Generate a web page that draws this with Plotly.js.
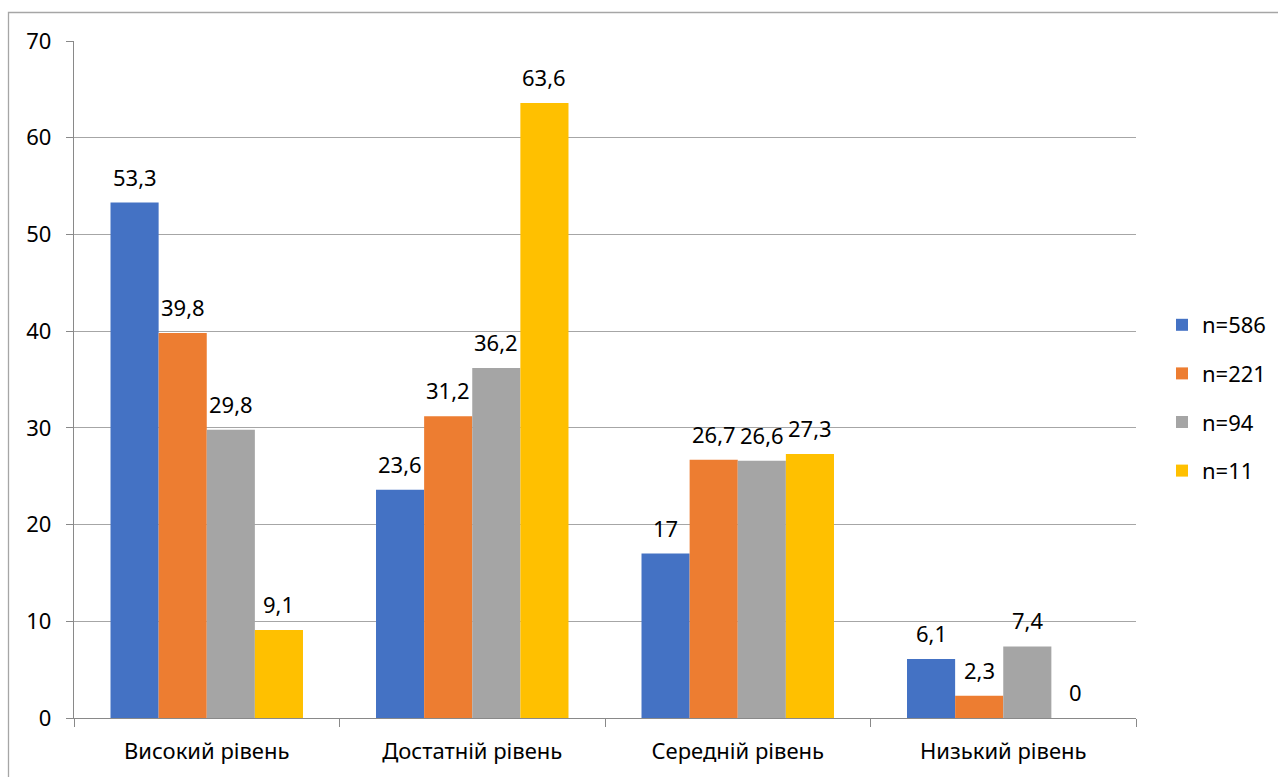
<!DOCTYPE html>
<html>
<head>
<meta charset="utf-8">
<script src="https://cdn.plot.ly/plotly-3.0.1.min.js"></script>
<style>html,body{margin:0;padding:0;background:#fff;}#chart{width:1278px;height:777px;}</style>
</head>
<body>
<div id="chart"></div>
<script>
const categories = ["Високий рівень", "Достатній рівень", "Середній рівень", "Низький рівень"];
const seriesNames = ["n=586", "n=221", "n=94", "n=11"];
const n586 = [53.3, 23.6, 17, 6.1];
const n221 = [39.8, 31.2, 26.7, 2.3];
const n94 = [29.8, 36.2, 26.6, 7.4];
const n11 = [9.1, 63.6, 27.3, 0];
const yTicks = [0, 10, 20, 30, 40, 50, 60, 70];

const colors = ["#4472C4", "#ED7D31", "#A5A5A5", "#FFC000"];
const allSeries = [n586, n221, n94, n11];
const fmt = v => String(v).replace('.', ',');
const FONT = "Noto Sans, sans-serif";
const FS = 22;

const W = 1278, H = 777, L = 74, R = 142, T = 41, B = 59;
const pw = W - L - R, ph = H - T - B;
const px = x => (x - L) / pw;
const py = y => (H - B - y) / ph;
const BARGAP = 0.275;
const barW = pw / categories.length * (1 - BARGAP) / allSeries.length;

const traces = allSeries.map((vals, i) => ({
  type: 'bar',
  name: seriesNames[i],
  x: categories,
  y: vals,
  marker: {color: colors[i]},
  cliponaxis: false,
  legendgroup: 'g' + i,
  hoverinfo: 'skip'
}));

const annotations = [];
allSeries.forEach((vals, i) => {
  vals.forEach((v, j) => {
    annotations.push({
      x: categories[j], y: v, xref: 'x', yref: 'y',
      text: fmt(v), showarrow: false,
      xshift: (i - (allSeries.length - 1) / 2) * barW,
      yshift: 26, yanchor: 'middle', xanchor: 'center',
      font: {size: FS, family: FONT, color: '#000'}
    });
  });
});

const layout = {
  width: W, height: H,
  margin: {l: L, r: R, t: T, b: B, pad: 0},
  paper_bgcolor: '#fff', plot_bgcolor: '#fff',
  font: {family: FONT, size: FS, color: '#000'},
  barmode: 'group',
  bargap: BARGAP,
  bargroupgap: 0,
  showlegend: true,
  legend: {xref: 'container', yref: 'container', x: 1162 / W, y: 1 - 398 / H,
           xanchor: 'left', yanchor: 'middle',
           font: {size: FS, family: FONT, color: '#000'}, tracegroupgap: 17,
           bgcolor: 'rgba(0,0,0,0)'},
  xaxis: {type: 'category', showline: true, linecolor: '#898989', linewidth: 1.3,
          ticks: 'outside', tickson: 'boundaries', ticklen: 8, tickcolor: '#898989',
          showgrid: false, zeroline: false, tickfont: {size: FS, family: FONT, color: '#000'},
          ticklabelstandoff: 13, automargin: false},
  yaxis: {range: [0, 70], tickvals: yTicks, ticktext: yTicks.map(String),
          showline: true, linecolor: '#898989', linewidth: 1.3,
          ticks: 'outside', ticklen: 7, tickcolor: '#898989',
          showgrid: true, gridcolor: '#A6A6A6', gridwidth: 1, zeroline: false,
          tickfont: {size: FS, family: FONT, color: '#000'}, ticklabelstandoff: 10,
          automargin: false},
  annotations: annotations,
  shapes: [{type: 'rect', xref: 'paper', yref: 'paper',
            x0: px(8.5), x1: px(1300), y0: py(800), y1: py(12.5),
            line: {color: '#A6A6A6', width: 1.3}, fillcolor: 'rgba(0,0,0,0)', layer: 'below'}]
};

Plotly.newPlot('chart', traces, layout, {displayModeBar: false, staticPlot: true});
</script>
</body>
</html>
